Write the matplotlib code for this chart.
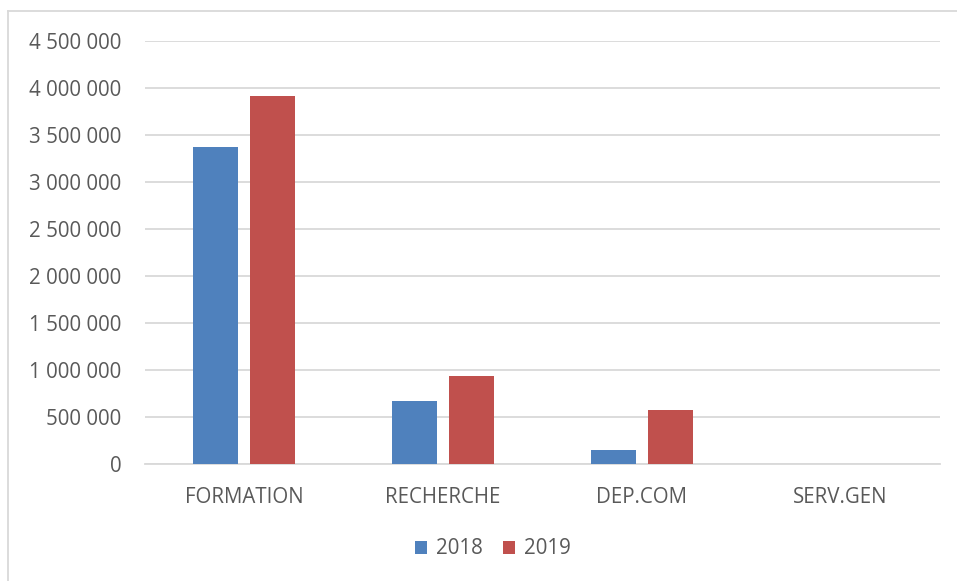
import matplotlib
matplotlib.use("Agg")
import matplotlib.pyplot as plt
from matplotlib.lines import Line2D
import numpy as np

categories = ["FORMATION", "RECHERCHE", "DEP.COM", "SERV.GEN"]
values_2018 = [3370000, 676000, 152000, 0]
values_2019 = [3912000, 941000, 580000, 0]
series_labels = ["2018", "2019"]
yticks = [0, 500000, 1000000, 1500000, 2000000, 2500000, 3000000, 3500000, 4000000, 4500000]

plt.rcParams['font.family'] = ['Open Sans', 'DejaVu Sans']
text_color = '#595959'
fs = 14.8

fig = plt.figure(figsize=(9.57, 5.81), dpi=100)
W, H = 957, 581
ax = fig.add_axes([145 / W, 1 - 464.3 / H, (940 - 145) / W, (464.3 - 40.7) / H])

x = np.arange(len(categories))
bw = 0.226
gap = 0.06
ax.bar(x - (bw + gap) / 2, values_2018, bw, color='#4F81BD', label=series_labels[0], zorder=3)
ax.bar(x + (bw + gap) / 2, values_2019, bw, color='#C0504D', label=series_labels[1], zorder=3)

ax.set_xlim(-0.5, len(categories) - 0.5)
ax.set_ylim(0, 4500000)
ax.set_yticks(yticks)
ax.set_yticklabels([f"{v:,}".replace(",", " ") for v in yticks])
ax.set_xticks(x)
ax.set_xticklabels(categories)
ax.tick_params(axis='y', length=0, pad=17, labelsize=fs, labelcolor=text_color)
ax.tick_params(axis='x', length=0, pad=16.5, labelsize=fs, labelcolor=text_color)
ax.grid(axis='y', color='#D9D9D9', linewidth=1.3, zorder=0)
for s in ['top', 'right', 'left']:
    ax.spines[s].set_visible(False)
ax.spines['bottom'].set_color('#D9D9D9')
ax.spines['bottom'].set_linewidth(1.3)

leg = fig.legend(loc='center', bbox_to_anchor=(493 / W, 1 - 549 / H), ncol=2, frameon=False,
                 fontsize=fs, handlelength=0.6, handleheight=0.6, handletextpad=0.45,
                 columnspacing=0.95, labelcolor=text_color)

# outer chart border (top and left visible)
fig.add_artist(Line2D([8 / W, 1.0], [1 - 11 / H, 1 - 11 / H], color='#D9D9D9', linewidth=1.3,
                      transform=fig.transFigure))
fig.add_artist(Line2D([8 / W, 8 / W], [0, 1 - 11 / H], color='#D9D9D9', linewidth=1.3,
                      transform=fig.transFigure))

fig.savefig("out.png", dpi=100)
